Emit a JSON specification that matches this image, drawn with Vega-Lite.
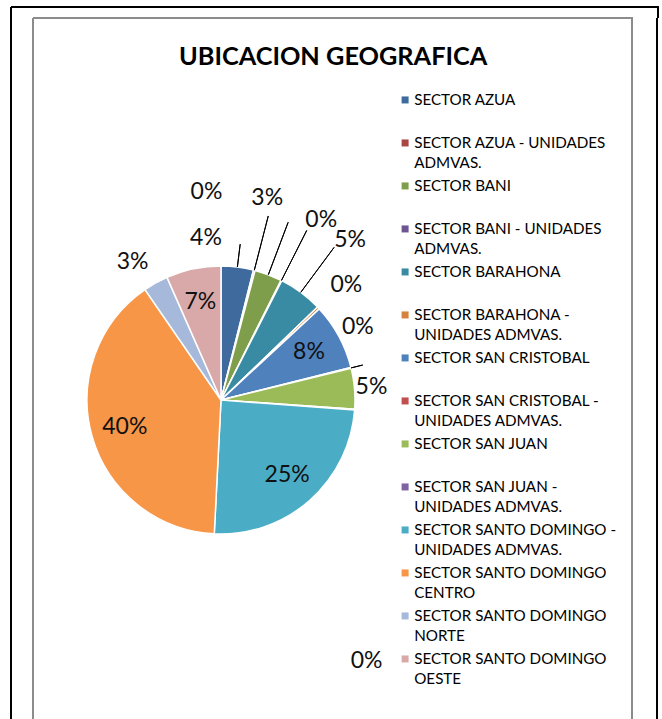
{
  "$schema": "https://vega.github.io/schema/vega-lite/v6.json",
  "padding": {"left": 9, "top": 5, "right": 4, "bottom": 0},
  "background": "white",
  "title": {"text": "UBICACION GEOGRAFICA", "font": "Lato", "fontSize": 25.3, "fontWeight": "bold", "color": "#000000", "anchor": "start", "frame": "group", "baseline": "alphabetic", "offset": 0, "dx": 168, "dy": 85},
  "datasets": {
    "sectores": [
      {"sector": "SECTOR AZUA", "v": 0.039, "i": 1},
      {"sector": "SECTOR AZUA - UNIDADES ADMVAS.", "v": 0.002, "i": 2},
      {"sector": "SECTOR BANI", "v": 0.033, "i": 3},
      {"sector": "SECTOR BANI - UNIDADES ADMVAS.", "v": 0.001, "i": 4},
      {"sector": "SECTOR BARAHONA", "v": 0.053, "i": 5},
      {"sector": "SECTOR BARAHONA - UNIDADES ADMVAS.", "v": 0.003, "i": 6},
      {"sector": "SECTOR SAN CRISTOBAL", "v": 0.080, "i": 7},
      {"sector": "SECTOR SAN CRISTOBAL - UNIDADES ADMVAS.", "v": 0.001, "i": 8},
      {"sector": "SECTOR SAN JUAN", "v": 0.049, "i": 9},
      {"sector": "SECTOR SAN JUAN - UNIDADES ADMVAS.", "v": 0.001, "i": 10},
      {"sector": "SECTOR SANTO DOMINGO - UNIDADES ADMVAS.", "v": 0.246, "i": 11},
      {"sector": "SECTOR SANTO DOMINGO CENTRO", "v": 0.396, "i": 12},
      {"sector": "SECTOR SANTO DOMINGO NORTE", "v": 0.030, "i": 13},
      {"sector": "SECTOR SANTO DOMINGO OESTE", "v": 0.066, "i": 14}
    ]
  },
  "spacing": 0,
  "bounds": "flush",
  "config": {
    "style": {"guide-label": {"lineHeight": 20}},
    "legend": {"padding": 0},
    "concat": {"spacing": 0}
  },
  "vconcat": [
    {
      "width": 647,
      "height": 11,
      "view": {"stroke": "#000000", "strokeWidth": 2, "strokeDash": [658, 647, 11, 0]},
      "data": {"values": [{}]},
      "mark": {"type": "rule", "opacity": 0},
      "encoding": {}
    },
    {
      "spacing": 0,
      "bounds": "flush",
      "hconcat": [
        {
          "width": 22,
          "height": 764,
          "view": {"stroke": "#000000", "strokeWidth": 2, "strokeDash": [0, 808, 764, 0]},
          "data": {"values": [{}]},
          "mark": {"type": "rule", "opacity": 0},
          "encoding": {}
        },
        {
          "width": 376,
          "height": 764,
          "view": {"stroke": "#8c8c8c", "strokeWidth": 2, "strokeDash": [376, 764, 1140, 0]},
          "data": {"name": "sectores"},
          "encoding": {
            "theta": {"field": "v", "type": "quantitative", "stack": true},
            "order": {"field": "i", "type": "quantitative"},
            "detail": {"field": "sector", "type": "nominal"}
          },
          "layer": [
            {
              "mark": {"type": "arc", "radius": 134, "stroke": "#ffffff", "strokeWidth": 1.5},
              "encoding": {
                "color": {
                  "field": "sector", "type": "nominal",
                  "scale": {
                    "domain": ["SECTOR AZUA", "SECTOR AZUA - UNIDADES ADMVAS.", "SECTOR BANI", "SECTOR BANI - UNIDADES ADMVAS.", "SECTOR BARAHONA", "SECTOR BARAHONA - UNIDADES ADMVAS.", "SECTOR SAN CRISTOBAL", "SECTOR SAN CRISTOBAL - UNIDADES ADMVAS.", "SECTOR SAN JUAN", "SECTOR SAN JUAN - UNIDADES ADMVAS.", "SECTOR SANTO DOMINGO - UNIDADES ADMVAS.", "SECTOR SANTO DOMINGO CENTRO", "SECTOR SANTO DOMINGO NORTE", "SECTOR SANTO DOMINGO OESTE"],
                    "range": ["#3e6a9e", "#a94543", "#7f9e4b", "#6d5592", "#398ba3", "#d5823a", "#4f81bd", "#c0504d", "#9bbb59", "#8064a2", "#4bacc6", "#f79646", "#a7b9da", "#d9a9a9"]
                  },
                  "legend": {
                    "title": null,
                    "orient": "none",
                    "legendX": 386.5,
                    "legendY": 78,
                    "labelFont": "Lato",
                    "labelFontSize": 15.2,
                    "labelColor": "#000000",
                    "labelLimit": 300,
                    "labelOffset": 1.5,
                    "labelBaseline": "top",
                    "symbolType": "M-1,1.1H1V3.1H-1Z",
                    "symbolSize": 49,
                    "symbolStrokeWidth": 0,
                    "rowPadding": 0,
                    "labelExpr": "indexof(datum.label, ' - UNIDADES') > 0 ? (length(datum.label) <= 31 ? [replace(datum.label, ' ADMVAS.', ''), 'ADMVAS.'] : [replace(datum.label, ' UNIDADES ADMVAS.', ''), 'UNIDADES ADMVAS.']) : (indexof(datum.label, 'DOMINGO ') > 0 ? ['SECTOR SANTO DOMINGO', replace(datum.label, 'SECTOR SANTO DOMINGO ', '')] : [datum.label, ''])"
                  }
                }
              }
            },
            {
              "mark": {"type": "arc", "radius": 157, "radius2": 134, "padAngle": 1.5, "fillOpacity": 0, "stroke": "#000000", "strokeWidth": 1, "clip": true},
              "encoding": {"strokeOpacity": {"condition": {"test": "datum.i == 1", "value": 1}, "value": 0}}
            },
            {
              "mark": {"type": "arc", "radius": 190, "radius2": 134, "padAngle": 1.5, "fillOpacity": 0, "stroke": "#000000", "strokeWidth": 1, "clip": true},
              "encoding": {"strokeOpacity": {"condition": {"test": "datum.i >= 2 && datum.i <= 5", "value": 1}, "value": 0}}
            },
            {
              "mark": {"type": "arc", "radius": 146, "radius2": 134, "padAngle": 1.5, "fillOpacity": 0, "stroke": "#000000", "strokeWidth": 1, "clip": true},
              "encoding": {"strokeOpacity": {"condition": {"test": "datum.i == 8", "value": 1}, "value": 0}}
            },
            {
              "mark": {"type": "text", "radius": 100, "font": "Lato", "fontSize": 23, "color": "#111111", "align": "center", "baseline": "middle", "clip": true},
              "encoding": {
                "text": {"field": "v", "type": "quantitative", "format": ".0%"},
                "opacity": {"condition": {"test": "datum.i == 7 || datum.i == 11 || datum.i == 12 || datum.i == 14", "value": 1}, "value": 0}
              }
            },
            {
              "mark": {"type": "text", "radius": 163, "thetaOffset": -0.215, "font": "Lato", "fontSize": 23, "color": "#111111", "align": "center", "baseline": "middle", "clip": true},
              "encoding": {
                "text": {"field": "v", "type": "quantitative", "format": ".0%"},
                "opacity": {"condition": {"test": "datum.i == 1", "value": 1}, "value": 0}
              }
            },
            {
              "mark": {"type": "text", "radius": 209, "thetaOffset": -0.321, "font": "Lato", "fontSize": 23, "color": "#111111", "align": "center", "baseline": "middle", "clip": true},
              "encoding": {
                "text": {"field": "v", "type": "quantitative", "format": ".0%"},
                "opacity": {"condition": {"test": "datum.i == 2", "value": 1}, "value": 0}
              }
            },
            {
              "mark": {"type": "text", "radius": 207, "thetaOffset": -0.136, "font": "Lato", "fontSize": 23, "color": "#111111", "align": "center", "baseline": "middle", "clip": true},
              "encoding": {
                "text": {"field": "v", "type": "quantitative", "format": ".0%"},
                "opacity": {"condition": {"test": "datum.i == 3", "value": 1}, "value": 0}
              }
            },
            {
              "mark": {"type": "text", "radius": 206, "thetaOffset": 0.04, "font": "Lato", "fontSize": 23, "color": "#111111", "align": "center", "baseline": "middle", "clip": true},
              "encoding": {
                "text": {"field": "v", "type": "quantitative", "format": ".0%"},
                "opacity": {"condition": {"test": "datum.i == 4 || datum.i == 5", "value": 1}, "value": 0}
              }
            },
            {
              "mark": {"type": "text", "radius": 170, "thetaOffset": 0.015, "font": "Lato", "fontSize": 23, "color": "#111111", "align": "center", "baseline": "middle", "clip": true},
              "encoding": {
                "text": {"field": "v", "type": "quantitative", "format": ".0%"},
                "opacity": {"condition": {"test": "datum.i == 6", "value": 1}, "value": 0}
              }
            },
            {
              "mark": {"type": "text", "radius": 151, "font": "Lato", "fontSize": 23, "color": "#111111", "align": "center", "baseline": "middle", "clip": true},
              "encoding": {
                "text": {"field": "v", "type": "quantitative", "format": ".0%"},
                "opacity": {"condition": {"test": "datum.i == 9", "value": 1}, "value": 0}
              }
            },
            {
              "mark": {"type": "text", "radius": 164, "thetaOffset": -0.06, "font": "Lato", "fontSize": 23, "color": "#111111", "align": "center", "baseline": "middle", "clip": true},
              "encoding": {
                "text": {"field": "v", "type": "quantitative", "format": ".0%"},
                "opacity": {"condition": {"test": "datum.i == 13", "value": 1}, "value": 0}
              }
            },
            {
              "mark": {"type": "text", "radius": 155, "thetaOffset": -0.246, "font": "Lato", "fontSize": 23, "color": "#111111", "align": "center", "baseline": "middle", "clip": true},
              "encoding": {
                "text": {"field": "v", "type": "quantitative", "format": ".0%"},
                "opacity": {"condition": {"test": "datum.i == 8", "value": 1}, "value": 0}
              }
            },
            {
              "mark": {"type": "text", "radius": 299, "thetaOffset": 0.99, "font": "Lato", "fontSize": 23, "color": "#111111", "align": "center", "baseline": "middle", "clip": true},
              "encoding": {
                "text": {"field": "v", "type": "quantitative", "format": ".0%"},
                "opacity": {"condition": {"test": "datum.i == 10", "value": 1}, "value": 0}
              }
            }
          ]
        },
        {
          "width": 223,
          "height": 764,
          "view": {"stroke": "#8c8c8c", "strokeWidth": 2, "strokeDash": [1210, 764]},
          "data": {"values": [{}]},
          "mark": {"type": "rule", "opacity": 0},
          "encoding": {}
        },
        {
          "width": 25,
          "height": 764,
          "view": {"stroke": "#000000", "strokeWidth": 2, "strokeDash": [0, 25, 764, 1000]},
          "data": {"values": [{}]},
          "mark": {"type": "rule", "opacity": 0},
          "encoding": {}
        }
      ]
    }
  ]
}
